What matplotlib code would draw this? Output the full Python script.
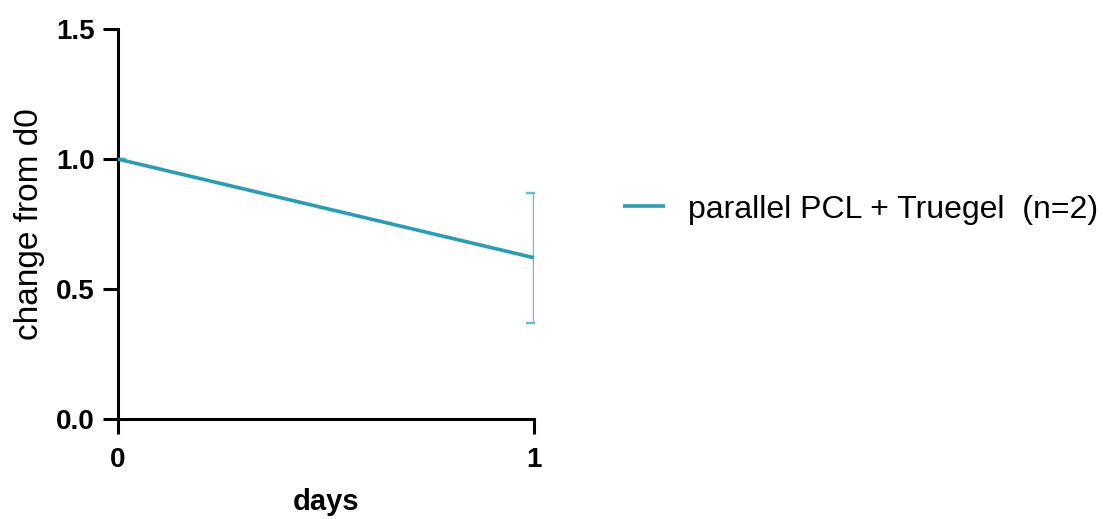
import matplotlib
matplotlib.use("Agg")
import matplotlib.pyplot as plt

# Data
days = [0, 1]
mean_change = [1.0, 0.62]
sem_change = [0.0, 0.25]
series_label = "parallel PCL + Truegel  (n=2)"
x_ticks = [0, 1]
y_ticks = [0.0, 0.5, 1.0, 1.5]

line_color = "#2a9db5"
err_color = "#5fbfd2"

plt.rcParams["font.family"] = ["Liberation Sans", "DejaVu Sans"]

fig = plt.figure(figsize=(11.03, 5.19), dpi=100)
ax = fig.add_axes([0.107, 0.1933, 0.3771, 0.7502])

ax.errorbar(days, mean_change, yerr=sem_change, fmt="none", ecolor=err_color,
            elinewidth=1.7, capsize=6, capthick=1.7, zorder=2)
ax.plot(days, mean_change, color=line_color, lw=2.6, label=series_label,
        solid_capstyle="butt", zorder=3, clip_on=False)

ax.set_xlim(0, 1)
ax.set_ylim(0, 1.5)
ax.set_xticks(x_ticks)
ax.set_yticks(y_ticks)
ax.set_xticklabels([str(t) for t in x_ticks], fontsize=20, fontweight="bold")
ax.set_yticklabels([f"{t:.1f}" for t in y_ticks], fontsize=20, fontweight="bold")

for side in ("top", "right"):
    ax.spines[side].set_visible(False)
for side in ("left", "bottom"):
    ax.spines[side].set_linewidth(2.2)
    ax.spines[side].set_capstyle("projecting")
ax.tick_params(axis="both", direction="out", length=10.5, width=2.2)
ax.tick_params(axis="y", pad=6)
ax.tick_params(axis="x", pad=10)

ax.set_ylabel("change from d0", fontsize=24, labelpad=8)
ax.set_xlabel("days", fontsize=21, fontweight="bold", labelpad=11)

leg = ax.legend(loc="center left", bbox_to_anchor=(1.214, 0.537), frameon=False,
                fontsize=23, handlelength=1.3, handletextpad=0.72,
                borderpad=0, borderaxespad=0)

fig.savefig("out.png", dpi=100)
